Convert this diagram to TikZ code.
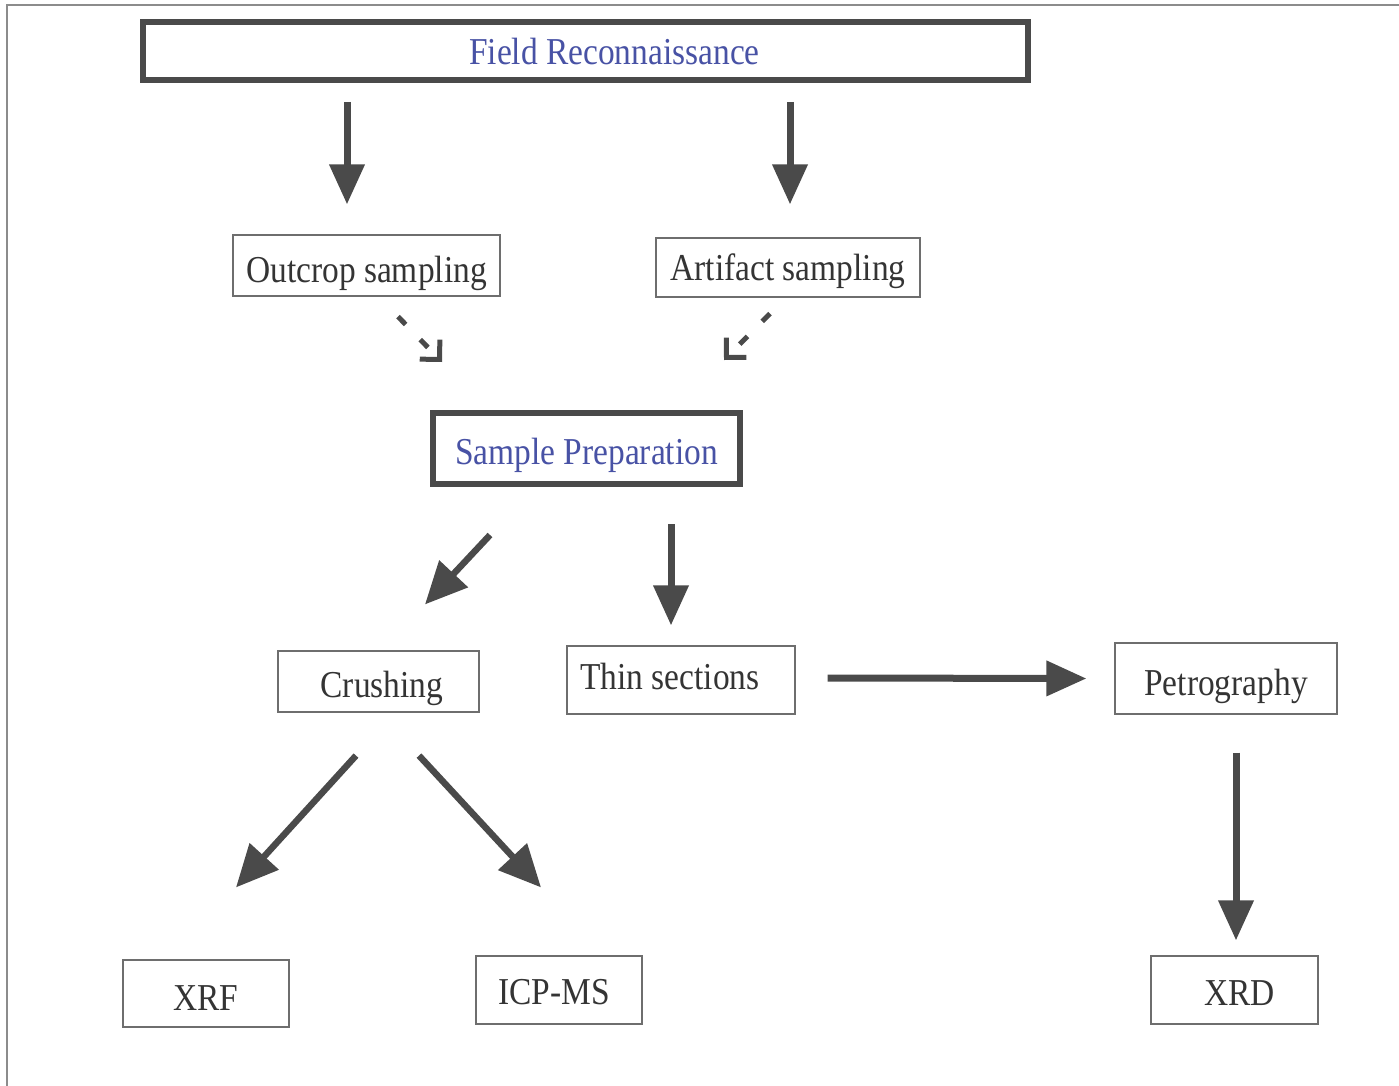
\documentclass[tikz,border=0pt]{standalone}
\usepackage{fontspec}
\setmainfont{Liberation Serif}[FakeStretch=0.88]
\usetikzlibrary{arrows.meta,calc}
\definecolor{dk}{RGB}{74,74,74}
\definecolor{txt}{RGB}{52,52,52}
\definecolor{blu}{RGB}{72,82,165}
\definecolor{thinc}{RGB}{110,110,110}
\definecolor{framec}{RGB}{140,140,140}
\begin{document}
\begin{tikzpicture}[x=1pt,y=-1pt,
  box/.style={draw=thinc, line width=1.2pt, text=txt, font=\fontsize{38}{44}\selectfont, inner sep=0pt},
  mainbox/.style={draw=dk, line width=6pt, text=blu, font=\fontsize{38}{44}\selectfont, inner sep=0pt},
  tb/.style={text height=#1, text depth=0pt},
  bigarrow/.style={draw=dk, line width=7pt, -{Triangle[length=40pt,width=34pt]}},
  diagarrow/.style={draw=dk, line width=6.5pt, -{Triangle[length=42pt,width=38pt]}},
  dasharrow/.style={draw=dk, line width=5pt, dash pattern=on 11pt off 21pt, -{Straight Barb[length=14pt,width=28pt]}}
]
\useasboundingbox (0,0) rectangle (1399,1086);
\fill[white] (0,0) rectangle (1399,1086);
\draw[framec, line width=1.5pt] (7,1086) -- (7,5) -- (1399,5);

\node[mainbox, tb=27.6pt, minimum width=885pt, minimum height=58pt] (fr) at (585.5,51) {\hspace*{58pt}Field Reconnaissance};
\node[box, tb=34pt, minimum width=267pt, minimum height=61pt] (outcrop) at (366.5,265.5) {Outcrop sampling};
\node[box, tb=25pt, minimum width=264pt, minimum height=59pt] (artifact) at (788,267.5) {Artifact sampling};
\node[mainbox, tb=31pt, minimum width=307pt, minimum height=71pt] (sp) at (586.5,448.5) {Sample Preparation};
\node[box, tb=31pt, minimum width=201pt, minimum height=61pt] (crushing) at (378.5,681.5) {\hspace*{7pt}Crushing};
\node[box, tb=19.5pt, minimum width=228pt, minimum height=68pt] (thin) at (681,680) {Thin sections\hspace*{22pt}};
\node[box, tb=33pt, minimum width=222pt, minimum height=71pt] (petro) at (1226,678.5) {Petrography};
\node[box, tb=33pt, minimum width=166pt, minimum height=67pt] (xrf) at (206,993.5) {XRF};
\node[box, tb=29pt, minimum width=166pt, minimum height=68pt] (icp) at (559,990) {ICP-MS\hspace*{10pt}};
\node[box, tb=31pt, minimum width=167pt, minimum height=68pt] (xrd) at (1234.5,990) {\hspace*{10pt}XRD};

\draw[bigarrow] ($(fr.south -| outcrop.north)+(-19.5,19)$) -- ($(outcrop.north)+(-19.5,-30)$);
\draw[bigarrow] ($(fr.south -| artifact.north)+(2,19)$) -- ($(artifact.north)+(2,-33)$);
\draw[dasharrow] ($(outcrop.south)+(31.5,20)$) -- ($(sp.north)+(-144.5,-48)$);
\draw[dasharrow] ($(artifact.south)+(-18,16)$) -- ($(sp.north)+(137.5,-50)$);
\draw[diagarrow] ($(sp.south)+(-96.5,48)$) -- ($(crushing.north)+(46.5,-46)$);
\draw[bigarrow] ($(sp.south -| thin.north)+(-10,37)$) -- ($(thin.north)+(-10,-20)$);
\draw[bigarrow] ($(thin.east)+(32,-2)$) -- ($(petro.west)+(-28,0)$);
\draw[bigarrow] ($(petro.south)+(10,38)$) -- ($(xrd.north -| petro.south)+(10,-15)$);
\draw[diagarrow] ($(crushing.south)+(-22.5,43)$) -- ($(xrf.north)+(30,-72)$);
\draw[diagarrow] ($(crushing.south)+(40.5,43)$) -- ($(icp.north)+(-18,-68)$);
\end{tikzpicture}
\end{document}
